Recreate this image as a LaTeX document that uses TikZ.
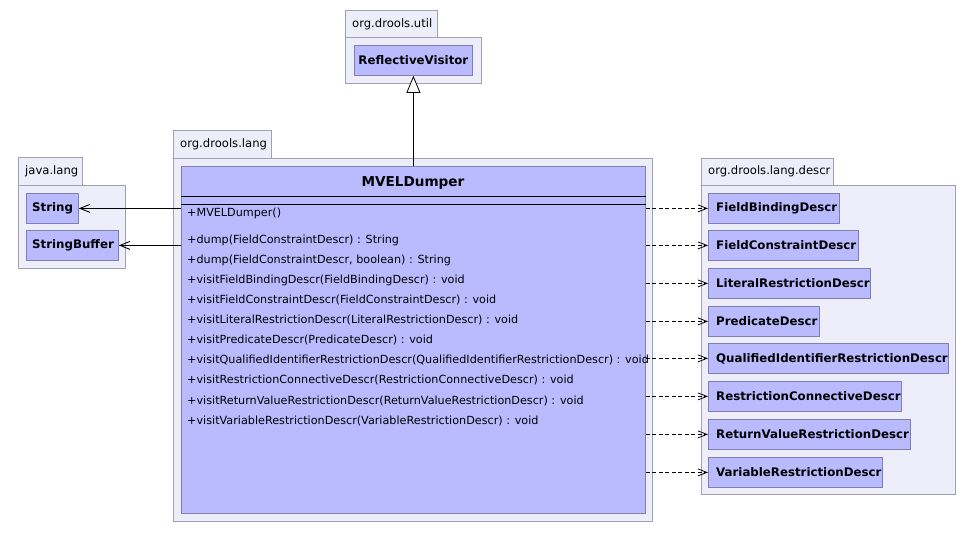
\documentclass[tikz,border=0pt]{standalone}
\usepackage{fontspec}
\setmainfont{DejaVu Sans}
\usetikzlibrary{arrows.meta}
\definecolor{pkgfill}{RGB}{238,238,250}
\definecolor{pkgdraw}{RGB}{160,160,180}
\definecolor{clsfill}{RGB}{186,186,255}
\definecolor{clsdraw}{RGB}{128,128,176}
\tikzset{
  pkg/.style={draw=pkgdraw, fill=pkgfill, line width=0.8pt},
  pkgtab/.style={anchor=west, inner sep=0pt, font=\fontsize{11.6}{14}\selectfont},
  cls/.style={draw=clsdraw, fill=clsfill, line width=0.8pt, anchor=north west, inner sep=0pt, minimum height=30pt},
  clsname/.style={font=\bfseries\fontsize{11.8}{14}\selectfont, inner sep=0pt},
  meth/.style={anchor=west, inner sep=0pt, font=\fontsize{11.2}{13}\selectfont},
  dep/.style={dashed, dash pattern=on 4pt off 2.5pt, line width=0.7pt, -{Straight Barb[length=9pt,width=7pt,line width=0.8pt]}},
  assoc/.style={line width=0.8pt, -{Straight Barb[length=10pt,width=8pt,line width=0.9pt]}},
  inherit/.style={line width=0.8pt, -{Triangle[open, length=17pt, width=14pt, fill=white, line width=0.8pt]}}
}
\begin{document}
\begin{tikzpicture}[x=1pt,y=-1pt]
\useasboundingbox (0,0) rectangle (975,533);
\fill[white] (0,0) rectangle (975,533);

% org.drools.util
\draw[pkg] (345,10) rectangle (437,37);
\draw[pkg] (345,37) rectangle (481,83);
\node[pkgtab] (putil) at (352,24) {org.drools.util};
\node[cls, minimum width=118pt] (rv) at (354,45) {};
\node[clsname] at (rv.center) {ReflectiveVisitor};

% java.lang
\draw[pkg] (18,157) rectangle (82,185);
\draw[pkg] (18,185) rectangle (125,268);
\node[pkgtab] (pjava) at (25,171) {java.lang};
\node[cls, minimum width=52pt] (str) at (26,193) {};
\node[clsname, anchor=west] at ([xshift=6pt]str.west) {String};
\node[cls, minimum width=92pt] (sb) at (26,230) {};
\node[clsname, anchor=west] at ([xshift=6pt]sb.west) {StringBuffer};

% org.drools.lang
\draw[pkg] (173,130) rectangle (271,158);
\draw[pkg] (173,158) rectangle (652,521);
\node[pkgtab] (plang) at (180,144) {org.drools.lang};
\node[cls, minimum width=464pt, minimum height=347pt] (mvel) at (181,166) {};
\node[font=\bfseries\fontsize{13.6}{16}\selectfont, inner sep=0pt] (mtitle) at (413,183) {MVELDumper};
\draw[line width=0.8pt] (mvel.west |- 0,196) -- (mvel.east |- 0,196);
\draw[line width=0.8pt] (mvel.west |- 0,204.5) -- (mvel.east |- 0,204.5);
\node[meth] (m1) at (187,213) {+MVELDumper()};
\node[meth] (m2) at (187,240) {+dump(FieldConstraintDescr) : String};
\node[meth] (m3) at (187,260) {+dump(FieldConstraintDescr, boolean) : String};
\node[meth] (m4) at (187,280) {+visitFieldBindingDescr(FieldBindingDescr) : void};
\node[meth] (m5) at (187,300) {+visitFieldConstraintDescr(FieldConstraintDescr) : void};
\node[meth] (m6) at (187,320) {+visitLiteralRestrictionDescr(LiteralRestrictionDescr) : void};
\node[meth] (m7) at (187,340) {+visitPredicateDescr(PredicateDescr) : void};
\node[meth] (m8) at (187,360) {+visitQualifiedIdentifierRestrictionDescr(QualifiedIdentifierRestrictionDescr) : void};
\node[meth] (m9) at (187,380) {+visitRestrictionConnectiveDescr(RestrictionConnectiveDescr) : void};
\node[meth] (m10) at (187,401) {+visitReturnValueRestrictionDescr(ReturnValueRestrictionDescr) : void};
\node[meth] (m11) at (187,421) {+visitVariableRestrictionDescr(VariableRestrictionDescr) : void};

% org.drools.lang.descr
\draw[pkg] (701,158) rectangle (833,185);
\draw[pkg] (701,185) rectangle (955,494);
\node[pkgtab] (pdescr) at (708,171) {org.drools.lang.descr};
\node[cls, minimum width=131pt] (d1) at (708,193) {};
\node[clsname, anchor=west] at ([xshift=8pt]d1.west) {FieldBindingDescr};
\node[cls, minimum width=150pt] (d2) at (708,230) {};
\node[clsname, anchor=west] at ([xshift=8pt]d2.west) {FieldConstraintDescr};
\node[cls, minimum width=162pt] (d3) at (708,268) {};
\node[clsname, anchor=west] at ([xshift=8pt]d3.west) {LiteralRestrictionDescr};
\node[cls, minimum width=111pt] (d4) at (708,306) {};
\node[clsname, anchor=west] at ([xshift=8pt]d4.west) {PredicateDescr};
\node[cls, minimum width=240pt] (d5) at (708,343) {};
\node[clsname, anchor=west] at ([xshift=8pt]d5.west) {QualifiedIdentifierRestrictionDescr};
\node[cls, minimum width=193pt] (d6) at (708,381) {};
\node[clsname, anchor=west] at ([xshift=8pt]d6.west) {RestrictionConnectiveDescr};
\node[cls, minimum width=202pt] (d7) at (708,419) {};
\node[clsname, anchor=west] at ([xshift=8pt]d7.west) {ReturnValueRestrictionDescr};
\node[cls, minimum width=174pt] (d8) at (708,457) {};
\node[clsname, anchor=west] at ([xshift=8pt]d8.west) {VariableRestrictionDescr};

% connectors
\draw[inherit] (mvel.north -| rv.south) -- (rv.south);
\draw[assoc] (mvel.west |- str.east) -- (str.east);
\draw[assoc] (mvel.west |- sb.east) -- (sb.east);
\foreach \d in {d1,d2,d3,d4,d5,d6,d7,d8}{
  \draw[dep] (mvel.east |- \d.west) -- (\d.west);
}
\end{tikzpicture}
\end{document}
